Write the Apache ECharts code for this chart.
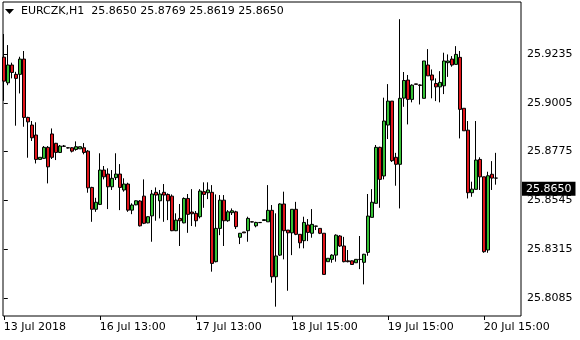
<!DOCTYPE html>
<html>
<head>
<meta charset="utf-8">
<script src="https://cdn.jsdelivr.net/npm/echarts@6/dist/echarts.min.js"></script>
<style>
html,body{margin:0;padding:0;background:#fff;}
#c{width:580px;height:340px;}
</style>
</head>
<body>
<div id="c"></div>
<script>
const symbolName = 'EURCZK,H1';
const openVals = [
25.9220,25.9099,25.9183,25.9139,25.9139,25.9211,25.8936,25.8900,25.8853,25.8738,
25.8743,25.8795,25.8858,25.8814,25.8771,25.8801,25.8793,25.8793,25.8785,25.8788,
25.8793,25.8777,25.8606,25.8503,25.8526,25.8688,25.8669,25.8609,25.8652,25.8669,
25.8594,25.8622,25.8499,25.8524,25.8542,25.8565,25.8439,25.8472,25.8583,25.8543,
25.8583,25.8573,25.8565,25.8402,25.8460,25.8439,25.8554,25.8490,25.8484,25.8468,
25.8586,25.8581,25.8583,25.8256,25.8413,25.8546,25.8449,25.8487,25.8491,25.8371,
25.8396,25.8402,25.8444,25.8425,25.8441,25.8450,25.8444,25.8498,25.8185,25.8287,
25.8528,25.8405,25.8392,25.8503,25.8385,25.8355,25.8429,25.8390,25.8424,25.8413,
25.8390,25.8256,25.8267,25.8287,25.8377,25.8330,25.8260,25.8260,25.8251,25.8267,
25.8253,25.8300,25.8465,25.8531,25.8795,25.8660,25.8900,25.9013,25.8748,25.8715,
25.9027,25.9112,25.9021,25.9094,25.9089,25.9026,25.9183,25.9136,25.9096,25.9080,
25.9085,25.9194,25.9211,25.9186,25.9219,25.8979,25.8876,25.8581,25.8597,25.8738,
25.8656,25.8311,25.8668,25.8650];
const closeVals = [
25.9107,25.9183,25.9148,25.9120,25.9211,25.8936,25.8915,25.8840,25.8738,25.8748,
25.8795,25.8703,25.8748,25.8771,25.8801,25.8800,25.8792,25.8777,25.8798,25.8798,
25.8771,25.8604,25.8503,25.8536,25.8688,25.8656,25.8609,25.8649,25.8669,25.8606,
25.8622,25.8499,25.8523,25.8543,25.8425,25.8437,25.8468,25.8575,25.8570,25.8575,
25.8570,25.8543,25.8402,25.8452,25.8449,25.8554,25.8479,25.8482,25.8449,25.8589,
25.8573,25.8594,25.8248,25.8413,25.8546,25.8449,25.8491,25.8496,25.8421,25.8390,
25.8392,25.8460,25.8443,25.8441,25.8440,25.8454,25.8498,25.8185,25.8283,25.8528,
25.8402,25.8392,25.8503,25.8385,25.8345,25.8441,25.8394,25.8432,25.8423,25.8390,
25.8196,25.8272,25.8287,25.8381,25.8330,25.8256,25.8256,25.8243,25.8267,25.8266,
25.8291,25.8471,25.8536,25.8795,25.8644,25.8919,25.9013,25.8732,25.8715,25.9026,
25.9110,25.9021,25.9088,25.9092,25.9087,25.9202,25.9132,25.9112,25.9080,25.9101,
25.9202,25.9202,25.9183,25.9233,25.8974,25.8873,25.8581,25.8598,25.8735,25.8656,
25.8303,25.8661,25.8650,25.8650];
const lowVals = [
25.9014,25.9088,25.9120,25.8897,25.9049,25.8892,25.8746,25.8825,25.8719,25.8738,
25.8741,25.8625,25.8740,25.8735,25.8768,25.8797,25.8790,25.8771,25.8779,25.8788,
25.8762,25.8581,25.8444,25.8491,25.8523,25.8644,25.8504,25.8594,25.8641,25.8499,
25.8586,25.8491,25.8480,25.8522,25.8422,25.8433,25.8437,25.8350,25.8449,25.8460,
25.8444,25.8452,25.8400,25.8400,25.8330,25.8437,25.8392,25.8424,25.8421,25.8460,
25.8510,25.8551,25.8209,25.8253,25.8381,25.8330,25.8444,25.8476,25.8410,25.8339,
25.8391,25.8350,25.8442,25.8418,25.8439,25.8449,25.8444,25.8157,25.8044,25.8283,
25.8267,25.8119,25.8287,25.8381,25.8319,25.8319,25.8353,25.8369,25.8405,25.8386,
25.8196,25.8256,25.8251,25.8256,25.8326,25.8253,25.8253,25.8241,25.8251,25.8221,
25.8149,25.8284,25.8465,25.8531,25.8510,25.8644,25.8834,25.8726,25.8614,25.8507,
25.8986,25.8903,25.9007,25.9092,25.8997,25.9026,25.9132,25.9026,25.9013,25.9007,
25.9046,25.9127,25.9175,25.9186,25.8837,25.8873,25.8554,25.8562,25.8597,25.8594,
25.8298,25.8298,25.8594,25.8619];
const highVals = [
25.9329,25.9277,25.9194,25.9151,25.9222,25.9249,25.8939,25.8919,25.8913,25.8748,
25.8801,25.8801,25.8884,25.8816,25.8806,25.8806,25.8795,25.8796,25.8823,25.8798,
25.8815,25.8782,25.8609,25.8557,25.8767,25.8707,25.8696,25.8688,25.8767,25.8716,
25.8649,25.8628,25.8531,25.8545,25.8546,25.8644,25.8470,25.8594,25.8606,25.8594,
25.8622,25.8578,25.8573,25.8484,25.8528,25.8559,25.8575,25.8598,25.8495,25.8598,
25.8630,25.8630,25.8617,25.8573,25.8570,25.8570,25.8499,25.8507,25.8496,25.8391,
25.8396,25.8468,25.8446,25.8444,25.8442,25.8455,25.8617,25.8523,25.8484,25.8531,
25.8586,25.8405,25.8503,25.8538,25.8385,25.8468,25.8457,25.8504,25.8425,25.8414,
25.8390,25.8272,25.8291,25.8385,25.8381,25.8373,25.8311,25.8262,25.8267,25.8377,
25.8293,25.8575,25.8598,25.8806,25.8798,25.9029,25.9093,25.9013,25.8769,25.9399,
25.9150,25.9136,25.9092,25.9094,25.9092,25.9202,25.9258,25.9162,25.9120,25.9154,
25.9241,25.9233,25.9225,25.9272,25.9249,25.8979,25.8919,25.8633,25.8919,25.8748,
25.8656,25.8680,25.8730,25.8769];
const xTickBars = [0, 24, 48, 72, 96, 120];
const xTickLabels = ['13 Jul 2018', '16 Jul 13:00', '17 Jul 13:00', '18 Jul 15:00', '19 Jul 15:00', '20 Jul 15:00'];
const yTickValues = [25.8085, 25.8315, 25.8545, 25.8775, 25.9005, 25.9235];
const yTickLabels = ['25.8085', '25.8315', '25.8545', '25.8775', '25.9005', '25.9235'];

const n = openVals.length;
const candles = [];
for (let i = 0; i < n; i++) {
  candles.push([i, openVals[i], closeVals[i], lowVals[i], highVals[i]]);
}
const last = n - 1;
const titleNums = [openVals[last], highVals[last], lowVals[last], closeVals[last]].map(v => v.toFixed(4)).join(' ');
const FONT = '"DejaVu Sans", Verdana, sans-serif';

const chart = echarts.init(document.getElementById('c'), null, {renderer: 'canvas'});
chart.setOption({
  animation: false,
  backgroundColor: '#ffffff',
  grid: {left: 3, right: 59, top: 2, bottom: 24, show: true, borderColor: '#000', borderWidth: 1, backgroundColor: 'transparent'},
  xAxis: {
    type: 'value', min: -0.2, max: 129.3,
    axisLine: {show: false},
    splitLine: {show: false},
    axisTick: {show: true, length: 4, lineStyle: {color: '#000'}, customValues: xTickBars},
    axisLabel: {
      customValues: xTickBars, align: 'left', margin: 6,
      color: '#000', fontFamily: FONT, fontSize: 11,
      formatter: function (v) { const k = xTickBars.indexOf(Math.round(v)); return k >= 0 ? xTickLabels[k] : ''; }
    }
  },
  yAxis: {
    type: 'value', position: 'right', min: 25.8, max: 25.948, scale: true,
    axisLine: {show: false},
    splitLine: {show: false},
    axisTick: {show: true, length: 4, lineStyle: {color: '#000'}, customValues: yTickValues},
    axisLabel: {
      customValues: yTickValues, margin: 6,
      color: '#000', fontFamily: FONT, fontSize: 11,
      formatter: function (v) {
        let best = 0; for (let k = 1; k < yTickValues.length; k++) if (Math.abs(yTickValues[k]-v) < Math.abs(yTickValues[best]-v)) best = k;
        return yTickLabels[best];
      }
    }
  },
  series: [{
    type: 'candlestick',
    data: candles,
    encode: {x: 0, y: [1, 2, 3, 4]},
    barWidth: 3,
    itemStyle: {color: '#35c135', color0: '#e0141a', borderColor: '#000', borderColor0: '#000', borderWidth: 1},
    markLine: {
      silent: true, symbol: ['none', 'none'],
      lineStyle: {color: 'rgba(0,0,0,0)', width: 1, type: 'solid'},
      emphasis: {disabled: true},
      data: [{yAxis: closeVals[last]}],
      label: {
        show: true,
        position: 'end', distance: 1,
        formatter: closeVals[last].toFixed(4),
        color: '#fff', backgroundColor: '#000', padding: [2, 4, 1, 4],
        fontFamily: FONT, fontSize: 11
      }
    }
  }],
  graphic: [
    {type: 'polygon', shape: {points: [[5, 9], [14, 9], [9.5, 14]]}, style: {fill: '#000'}},
    {type: 'text', left: 21, top: 6, style: {text: symbolName + '  ' + titleNums, font: '11px ' + FONT, fill: '#000'}}
  ]
});
</script>
</body>
</html>
